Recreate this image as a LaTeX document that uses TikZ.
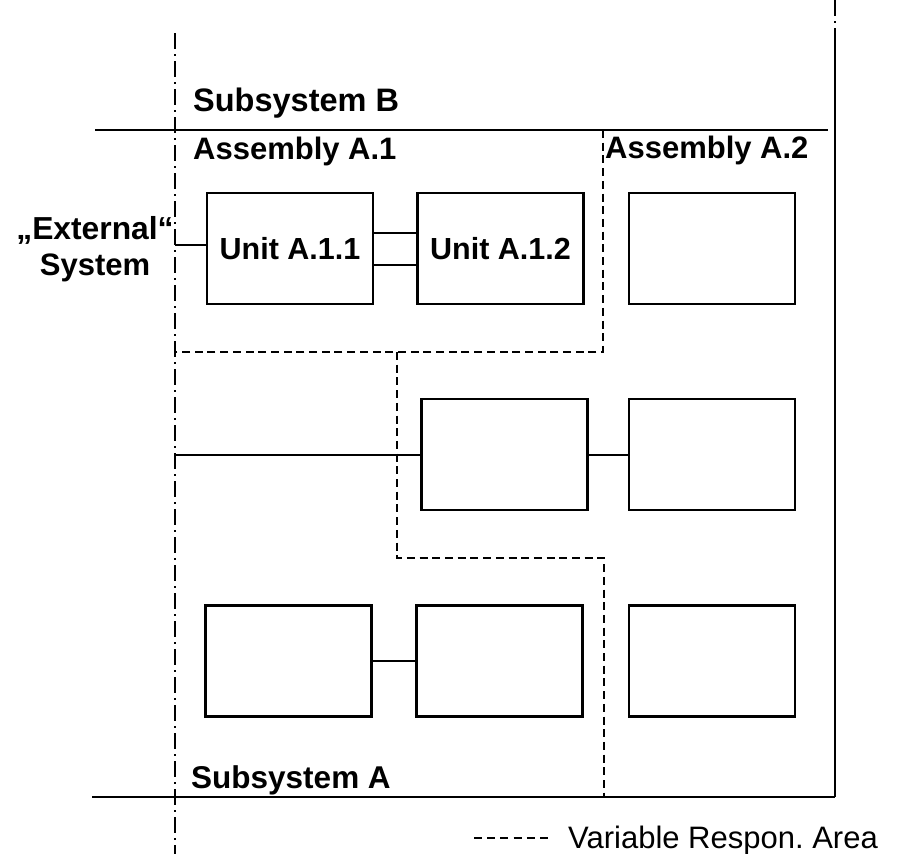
\documentclass[tikz,border=0pt]{standalone}
\usepackage{fontspec}
\setmainfont{Liberation Sans}
\begin{document}
\begin{tikzpicture}[x=1pt,y=-1pt,
  unitbox/.style={draw,line width=2.3pt,minimum width=166pt,minimum height=111pt,inner sep=0pt,
    font=\fontsize{30.5}{34}\selectfont\bfseries},
  lbl/.style={inner sep=0pt,font=\fontsize{31}{35}\selectfont\bfseries},
  conn/.style={line width=2pt},
  border/.style={line width=2pt},
  axis/.style={line width=1.8pt,dash pattern=on 16pt off 5pt on 2pt off 5pt},
  resp/.style={line width=2pt,dash pattern=on 8pt off 4.7pt}]
\useasboundingbox (0,0) rectangle (897,854);

% system boundaries
\draw[axis] (175,33) -- (175,854);
\draw[axis] (835,0) -- (835,30);
\draw[border] (835,30) -- (835,797);
\draw[border] (95,130) -- (828,130);
\draw[border] (92,797) -- (835,797);

% variable responsibility area
\draw[resp] (603,130) -- (603,352) -- (175,352);
\draw[resp] (397,352) -- (397,558) -- (604,558) -- (604,797);

% units
\node[unitbox] (u11) at (290,248.5) {Unit A.1.1};
\node[unitbox] (u12) at (500.5,248.5) {Unit A.1.2};
\node[unitbox] (u13) at (712,248.5) {};
\node[unitbox] (u21) at (504.5,454.5) {};
\node[unitbox] (u22) at (712,454.5) {};
\node[unitbox] (u31) at (288.5,661) {};
\node[unitbox] (u32) at (499.5,661) {};
\node[unitbox] (u33) at (712,661) {};

% interfaces
\coordinate (ext1) at (175,245);
\coordinate (ext2) at (175,455);
\draw[conn] (ext1) -- (ext1 -| u11.west);
\draw[conn] ([yshift=15.5pt]u11.east) -- ([yshift=15.5pt]u12.west);
\draw[conn] ([yshift=-16.5pt]u11.east) -- ([yshift=-16.5pt]u12.west);
\draw[conn] (ext2) -- (ext2 -| u21.west);
\draw[conn] (u21) -- (u22);
\draw[conn] (u31) -- (u32);

% labels
\node[lbl,anchor=base west,font=\fontsize{32.5}{36}\selectfont\bfseries] (subB) at (193,111) {Subsystem B};
\node[lbl,anchor=base west] (asm1) at (193,159) {Assembly A.1};
\node[lbl,anchor=base west] (asm2) at (605,158) {Assembly A.2};
\node[lbl,anchor=base west,font=\fontsize{31.5}{35}\selectfont\bfseries] (subA) at (191,788) {Subsystem A};
\node[lbl,anchor=base,font=\fontsize{31.8}{35}\selectfont\bfseries] (extn) at (95,239) {„External“};
\node[lbl,anchor=base] (exts) at (95,275) {System};

% legend
\coordinate (lg1) at (474,838);
\coordinate (lg2) at (552,838);
\draw[line width=1.8pt,dash pattern=on 8pt off 5.2pt] (lg1) -- (lg2);
\node[inner sep=0pt,anchor=base west,font=\fontsize{31}{35}\selectfont] (leg) at (568,848) {Variable Respon.\ Area};
\end{tikzpicture}
\end{document}
